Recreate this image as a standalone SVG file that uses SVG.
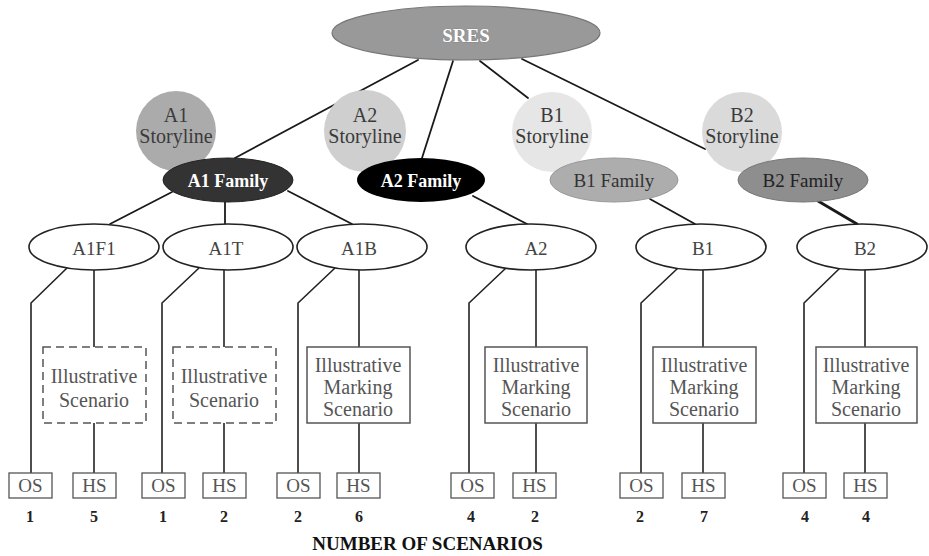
<svg xmlns="http://www.w3.org/2000/svg" width="929" height="556" viewBox="0 0 929 556">
<style>
  text { font-family: "Liberation Serif", "DejaVu Serif", serif; text-anchor: middle; }
  .ln { stroke: #1a1a1a; stroke-width: 1.8; fill: none; stroke-linecap: round; stroke-linejoin: round; }
  .lv { stroke: #222; stroke-width: 1.6; fill: none; }
  .l2 { fill: #ffffff; stroke: #222; stroke-width: 1.6; }
  .l2t { font-size: 19px; fill: #444; }
  .sl { font-size: 20px; fill: #3a3a3a; }
  .box { fill: #ffffff; stroke: #555; stroke-width: 1.5; }
  .dash { fill: #ffffff; stroke: #555; stroke-width: 1.5; stroke-dasharray: 8 5; }
  .bt { font-size: 20px; fill: #555; }
  .sm { fill: #ffffff; stroke: #555; stroke-width: 1.3; }
  .smt { font-size: 19px; fill: #555; }
  .num { font-size: 16px; font-weight: bold; fill: #222; }
</style>

<g id="connectors">
  <line class="ln" x1="418" y1="60" x2="235" y2="158"/>
  <line class="ln" x1="453" y1="61" x2="422" y2="158"/>
  <line class="ln" x1="480" y1="61" x2="528" y2="98"/>
  <line class="ln" x1="522" y1="59" x2="705" y2="149"/>
  <line class="ln" x1="172" y1="192" x2="110" y2="224"/>
  <line class="ln" x1="225" y1="202" x2="225" y2="224"/>
  <line class="ln" x1="288" y1="191" x2="352" y2="224"/>
  <line class="ln" x1="473" y1="196" x2="527" y2="224"/>
  <line class="ln" x1="650" y1="199" x2="695" y2="224"/>
  <line class="ln" x1="818" y1="201" x2="857" y2="224" style="stroke-width:2.8"/>
  <polyline class="lv" points="67,268 31,303 31,473"/>
  <polyline class="lv" points="199,268 162,303 162,473"/>
  <polyline class="lv" points="335,268 298,303 298,473"/>
  <polyline class="lv" points="506,268 469,303 469,473"/>
  <polyline class="lv" points="678,268 641,303 641,473"/>
  <polyline class="lv" points="840,268 804,303 804,473"/>
  <line class="lv" x1="94" y1="270" x2="94" y2="473"/>
  <line class="lv" x1="224" y1="270" x2="224" y2="473"/>
  <line class="lv" x1="359" y1="270" x2="359" y2="473"/>
  <line class="lv" x1="536" y1="270" x2="536" y2="473"/>
  <line class="lv" x1="703" y1="270" x2="703" y2="473"/>
  <line class="lv" x1="865" y1="270" x2="865" y2="473"/>
</g>

<g id="sres">
  <ellipse cx="466" cy="33" rx="134" ry="27" fill="#999999" stroke="#777" stroke-width="1.2"/>
  <text x="466" y="42" style="font-size:19px;font-weight:bold;fill:#fff;stroke:#777;stroke-width:0.6;paint-order:stroke">SRES</text>
</g>

<g id="a1-storyline">
  <circle cx="176" cy="131" r="40" fill="#ababab"/>
  <text class="sl" x="176" y="122">A1</text>
  <text class="sl" x="176" y="143">Storyline</text>
</g>
<g id="a2-storyline">
  <circle cx="365" cy="131" r="41" fill="#cfcfcf"/>
  <text class="sl" x="365" y="122">A2</text>
  <text class="sl" x="365" y="143">Storyline</text>
</g>
<g id="b1-storyline">
  <circle cx="552" cy="132" r="40" fill="#e6e6e6"/>
  <text class="sl" x="552" y="122">B1</text>
  <text class="sl" x="552" y="143">Storyline</text>
</g>
<g id="b2-storyline">
  <circle cx="742" cy="132" r="40" fill="#dadada"/>
  <text class="sl" x="742" y="122">B2</text>
  <text class="sl" x="742" y="143">Storyline</text>
</g>

<g id="a1-family">
  <ellipse cx="228" cy="180" rx="65" ry="22" fill="#333333" stroke="#222" stroke-width="1"/>
  <text x="228" y="187" style="font-size:18px;font-weight:bold;fill:#fff">A1 Family</text>
</g>
<g id="a2-family">
  <ellipse cx="421" cy="180" rx="64" ry="22" fill="#000000"/>
  <text x="421" y="187" style="font-size:18px;font-weight:bold;fill:#fff">A2 Family</text>
</g>
<g id="b1-family">
  <ellipse cx="614" cy="180" rx="64" ry="22" fill="#adadad" stroke="#999" stroke-width="1"/>
  <text x="614" y="187" style="font-size:19px;fill:#333">B1 Family</text>
</g>
<g id="b2-family">
  <ellipse cx="803" cy="180" rx="65" ry="22" fill="#8e8e8e" stroke="#777" stroke-width="1"/>
  <text x="803" y="187" style="font-size:19px;fill:#222">B2 Family</text>
</g>

<g id="a1f1">
  <ellipse class="l2" cx="94" cy="247" rx="65" ry="23"/>
  <text class="l2t" x="94" y="255">A1F1</text>
</g>
<g id="a1t">
  <ellipse class="l2" cx="228" cy="247" rx="65" ry="23"/>
  <text class="l2t" x="226" y="255">A1T</text>
</g>
<g id="a1b">
  <ellipse class="l2" cx="362" cy="247" rx="65" ry="23"/>
  <text class="l2t" x="359" y="255">A1B</text>
</g>
<g id="a2">
  <ellipse class="l2" cx="531" cy="247" rx="65" ry="23"/>
  <text class="l2t" x="536" y="255">A2</text>
</g>
<g id="b1">
  <ellipse class="l2" cx="701" cy="247" rx="65" ry="23"/>
  <text class="l2t" x="703" y="255">B1</text>
</g>
<g id="b2">
  <ellipse class="l2" cx="862" cy="247" rx="65" ry="23"/>
  <text class="l2t" x="865" y="255">B2</text>
</g>

<g id="a1f1-scenario">
  <rect class="dash" x="43" y="347" width="103" height="76"/>
  <text class="bt" x="94" y="383">Illustrative</text>
  <text class="bt" x="94" y="407">Scenario</text>
</g>
<g id="a1t-scenario">
  <rect class="dash" x="173" y="347" width="103" height="76"/>
  <text class="bt" x="224" y="383">Illustrative</text>
  <text class="bt" x="224" y="407">Scenario</text>
</g>
<g id="a1b-scenario">
  <rect class="box" x="307" y="347" width="103" height="76"/>
  <text class="bt" x="358" y="372">Illustrative</text>
  <text class="bt" x="358" y="394">Marking</text>
  <text class="bt" x="358" y="416">Scenario</text>
</g>
<g id="a2-scenario">
  <rect class="box" x="485" y="347" width="102" height="76"/>
  <text class="bt" x="536" y="372">Illustrative</text>
  <text class="bt" x="536" y="394">Marking</text>
  <text class="bt" x="536" y="416">Scenario</text>
</g>
<g id="b1-scenario">
  <rect class="box" x="653" y="347" width="103" height="76"/>
  <text class="bt" x="704" y="372">Illustrative</text>
  <text class="bt" x="704" y="394">Marking</text>
  <text class="bt" x="704" y="416">Scenario</text>
</g>
<g id="b2-scenario">
  <rect class="box" x="816" y="347" width="101" height="76"/>
  <text class="bt" x="866" y="372">Illustrative</text>
  <text class="bt" x="866" y="394">Marking</text>
  <text class="bt" x="866" y="416">Scenario</text>
</g>

<g id="os-a1f1"><rect class="sm" x="9" y="473" width="43" height="25"/><text class="smt" x="30.5" y="492">OS</text><text class="num" x="30" y="522">1</text></g>
<g id="hs-a1f1"><rect class="sm" x="73" y="473" width="43" height="25"/><text class="smt" x="94.5" y="492">HS</text><text class="num" x="94" y="522">5</text></g>
<g id="os-a1t"><rect class="sm" x="142" y="473" width="43" height="25"/><text class="smt" x="163.5" y="492">OS</text><text class="num" x="163" y="522">1</text></g>
<g id="hs-a1t"><rect class="sm" x="203" y="473" width="43" height="25"/><text class="smt" x="224.5" y="492">HS</text><text class="num" x="224" y="522">2</text></g>
<g id="os-a1b"><rect class="sm" x="277" y="473" width="43" height="25"/><text class="smt" x="298.5" y="492">OS</text><text class="num" x="298" y="522">2</text></g>
<g id="hs-a1b"><rect class="sm" x="337" y="473" width="43" height="25"/><text class="smt" x="358.5" y="492">HS</text><text class="num" x="359" y="522">6</text></g>
<g id="os-a2"><rect class="sm" x="451" y="473" width="43" height="25"/><text class="smt" x="472.5" y="492">OS</text><text class="num" x="471" y="522">4</text></g>
<g id="hs-a2"><rect class="sm" x="513" y="473" width="43" height="25"/><text class="smt" x="534.5" y="492">HS</text><text class="num" x="535" y="522">2</text></g>
<g id="os-b1"><rect class="sm" x="620" y="473" width="43" height="25"/><text class="smt" x="641.5" y="492">OS</text><text class="num" x="640" y="522">2</text></g>
<g id="hs-b1"><rect class="sm" x="682" y="473" width="43" height="25"/><text class="smt" x="703.5" y="492">HS</text><text class="num" x="704" y="522">7</text></g>
<g id="os-b2"><rect class="sm" x="783" y="473" width="43" height="25"/><text class="smt" x="804.5" y="492">OS</text><text class="num" x="805" y="522">4</text></g>
<g id="hs-b2"><rect class="sm" x="844" y="473" width="43" height="25"/><text class="smt" x="865.5" y="492">HS</text><text class="num" x="866" y="522">4</text></g>

<text x="427.5" y="550" style="font-size:19px;font-weight:bold;fill:#111">NUMBER OF SCENARIOS</text>
</svg>
